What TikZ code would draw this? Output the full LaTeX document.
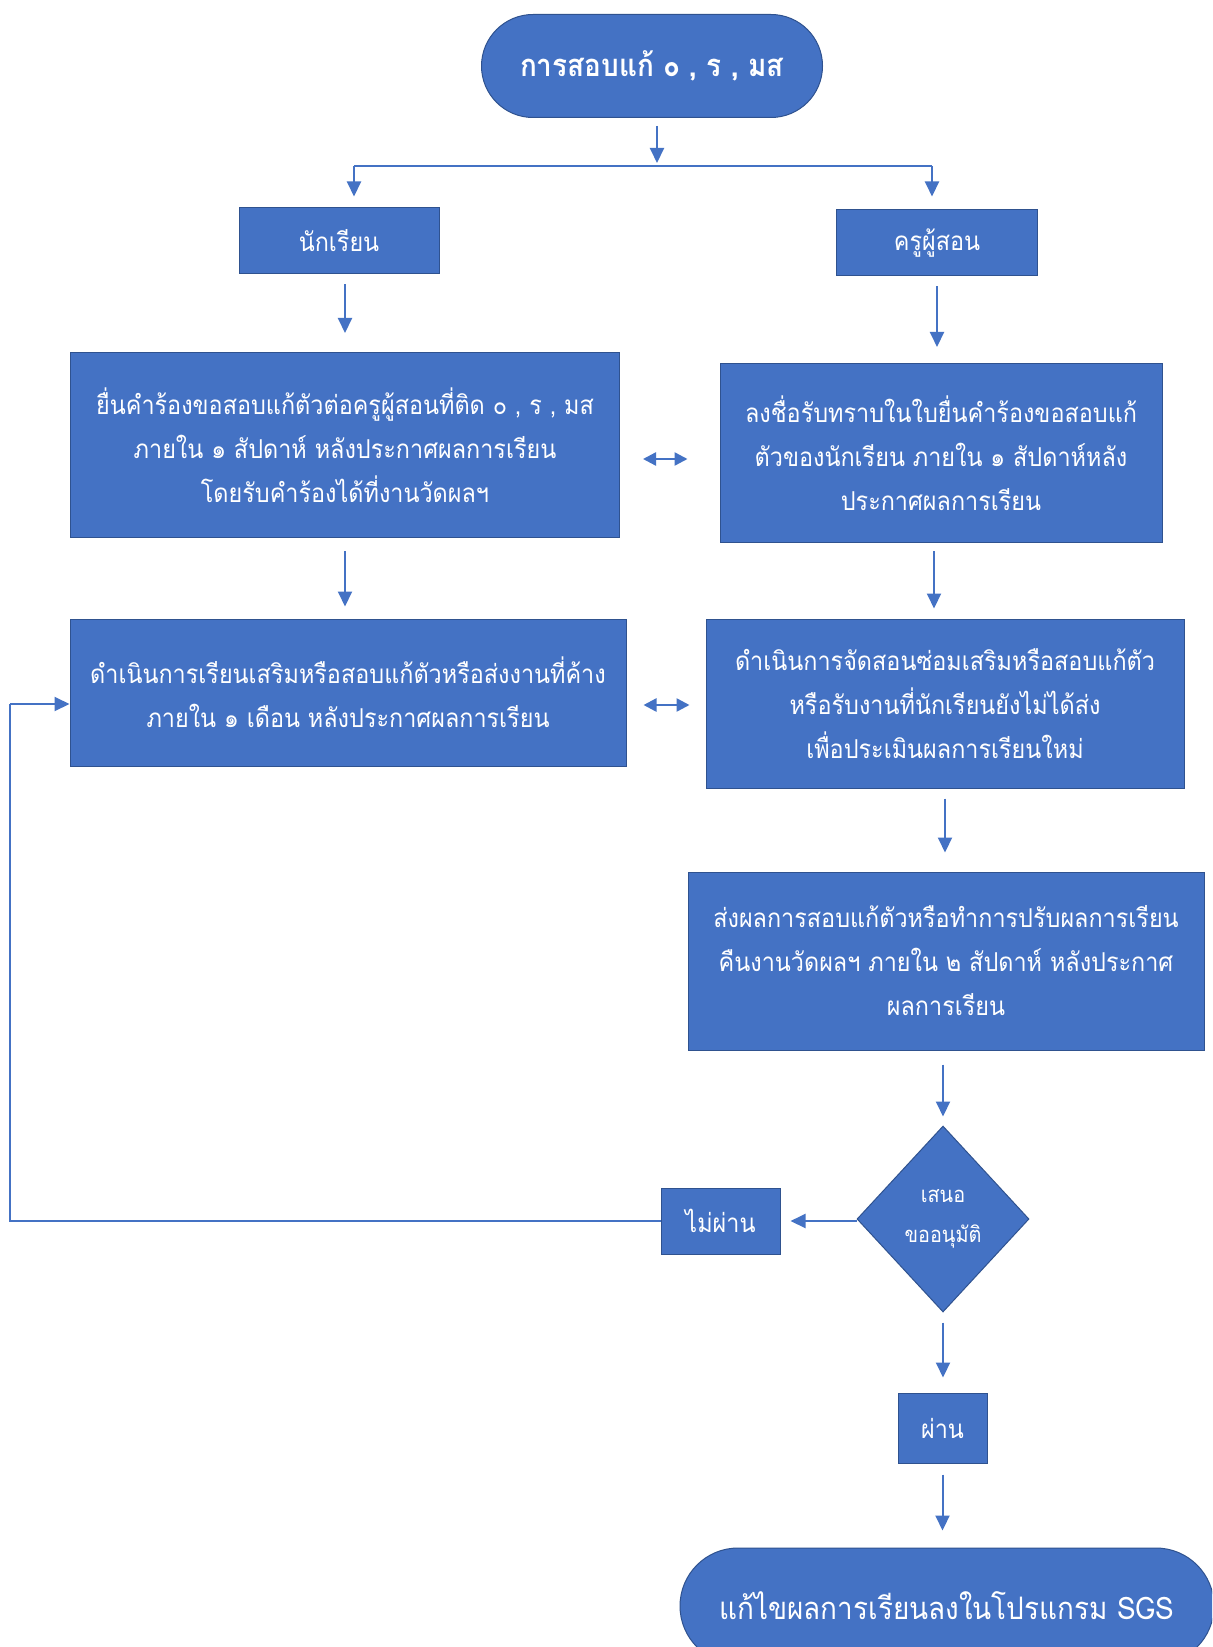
\documentclass[tikz,border=0pt]{standalone}
\usepackage{fontspec}
\setmainfont[Script=Thai,FakeStretch=0.9]{Loma}
\usetikzlibrary{shapes.geometric,arrows.meta}
\definecolor{fillblue}{HTML}{4472C4}
\definecolor{edgeblue}{HTML}{2F528F}
\begin{document}
\begin{tikzpicture}[x=0.5pt,y=-0.5pt,
  box/.style={draw=edgeblue, line width=0.5pt, fill=fillblue, text=white, align=center, inner sep=0pt, font=\fontsize{13}{22}\selectfont},
  arr/.style={draw=fillblue, line width=1pt, -{Triangle[length=7.5pt,width=7pt]}},
  ln/.style={draw=fillblue, line width=0.75pt},
  dbl/.style={draw=fillblue, line width=1.2pt, {Triangle[length=6.5pt,width=6.5pt]}-{Triangle[length=6.5pt,width=6.5pt]}}]
\clip (0,0) rectangle (1212,1647);
\fill[white] (0,0) rectangle (1212,1647);

\node[box, minimum width=170.5pt, minimum height=51.5pt, rounded corners=25.75pt, font=\fontsize{15.5}{22}\selectfont\bfseries] (start) at (652,66) {การสอบแก้ ๐ , ร , มส};
\node[box, minimum width=100pt, minimum height=33pt] (student) at (339,241) {นักเรียน};
\node[box, minimum width=100.5pt, minimum height=33pt] (teacher) at (937,243) {ครูผู้สอน};
\node[box, minimum width=274.5pt, minimum height=92.5pt] (lb1) at (345,445) {ยื่นคำร้องขอสอบแก้ตัวต่อครูผู้สอนที่ติด ๐ , ร , มส\\ภายใน ๑ สัปดาห์ หลังประกาศผลการเรียน\\โดยรับคำร้องได้ที่งานวัดผลฯ};
\node[box, minimum width=221pt, minimum height=89.5pt] (rb1) at (941,453) {ลงชื่อรับทราบในใบยื่นคำร้องขอสอบแก้\\ตัวของนักเรียน ภายใน ๑ สัปดาห์หลัง\\ประกาศผลการเรียน};
\node[box, minimum width=278pt, minimum height=73.5pt] (lb2) at (348,692.5) {ดำเนินการเรียนเสริมหรือสอบแก้ตัวหรือส่งงานที่ค้าง\\ภายใน ๑ เดือน หลังประกาศผลการเรียน};
\node[box, minimum width=239pt, minimum height=84.5pt] (rb2) at (945,703.5) {ดำเนินการจัดสอนซ่อมเสริมหรือสอบแก้ตัว\\หรือรับงานที่นักเรียนยังไม่ได้ส่ง\\เพื่อประเมินผลการเรียนใหม่};
\node[box, minimum width=258pt, minimum height=89pt] (box3) at (946,961) {ส่งผลการสอบแก้ตัวหรือทำการปรับผลการเรียน\\คืนงานวัดผลฯ ภายใน ๒ สัปดาห์ หลังประกาศ\\ผลการเรียน};
\node[box, shape=diamond, minimum width=86pt, minimum height=93pt, font=\fontsize{11}{20}\selectfont] (dia) at (943,1219) {เสนอ\\ขออนุมัติ};
\node[box, minimum width=59.5pt, minimum height=33pt] (nopass) at (720.5,1221) {ไม่ผ่าน};
\node[box, minimum width=44.5pt, minimum height=35pt] (pass) at (942.5,1428) {ผ่าน};
\node[box, minimum width=267pt, minimum height=58pt, rounded corners=29pt, font=\fontsize{15.5}{22}\selectfont] (end) at (947,1606) {แก้ไขผลการเรียนลงในโปรแกรม SGS};

% branch at top
\coordinate (bj) at (657,166);
\coordinate (bl) at (354,166);
\coordinate (br) at (932,166);
\draw[arr, shorten <=4pt] (start.south -| bj) -- ([yshift=1.5pt]bj);
\draw[ln] (bl) -- (br);
\draw[arr, shorten >=5.5pt] (bl) -- (bl |- student.north);
\draw[arr, shorten >=6.5pt] (br) -- (br |- teacher.north);

% vertical arrows
\coordinate (c934) at (934,0);
\draw[arr, shorten <=5pt, shorten >=9.5pt] (student.south -| lb1) -- (lb1.north);
\draw[arr, shorten <=5pt, shorten >=8pt] (teacher.south) -- (teacher.south |- rb1.north);
\draw[arr, shorten <=6.5pt, shorten >=6pt] (lb1.south) -- (lb1.south |- lb2.north);
\draw[arr, shorten <=4pt, shorten >=5pt] (rb1.south -| c934) -- (c934 |- rb2.north);
\draw[arr, shorten <=5pt, shorten >=9.5pt] (rb2.south) -- (rb2.south |- box3.north);
\draw[arr, shorten <=7pt, shorten >=4.5pt] (box3.south -| dia) -- (dia.north);
\draw[arr, shorten <=5pt, shorten >=7.5pt] (dia.south) -- (dia.south |- pass.north);
\draw[arr, shorten <=5.5pt, shorten >=8.5pt] (pass.south) -- (pass.south |- end.north);

% double arrows
\coordinate (d1) at (0,459);
\coordinate (d2) at (0,705);
\draw[dbl, shorten <=11.5pt, shorten >=16pt] (lb1.east |- d1) -- (rb1.west |- d1);
\draw[dbl, shorten <=8.5pt, shorten >=8pt] (lb2.east |- d2) -- (rb2.west |- d2);

% decision
\draw[arr, shorten >=5pt] (dia.west |- nopass) -- (nopass.east);
\coordinate (lp) at (10,704);
\draw[ln] (nopass.west) -- (nopass.west -| lp) -- (lp);
\draw[arr] (lp) -- (lp -| lb2.west);
\end{tikzpicture}
\end{document}
